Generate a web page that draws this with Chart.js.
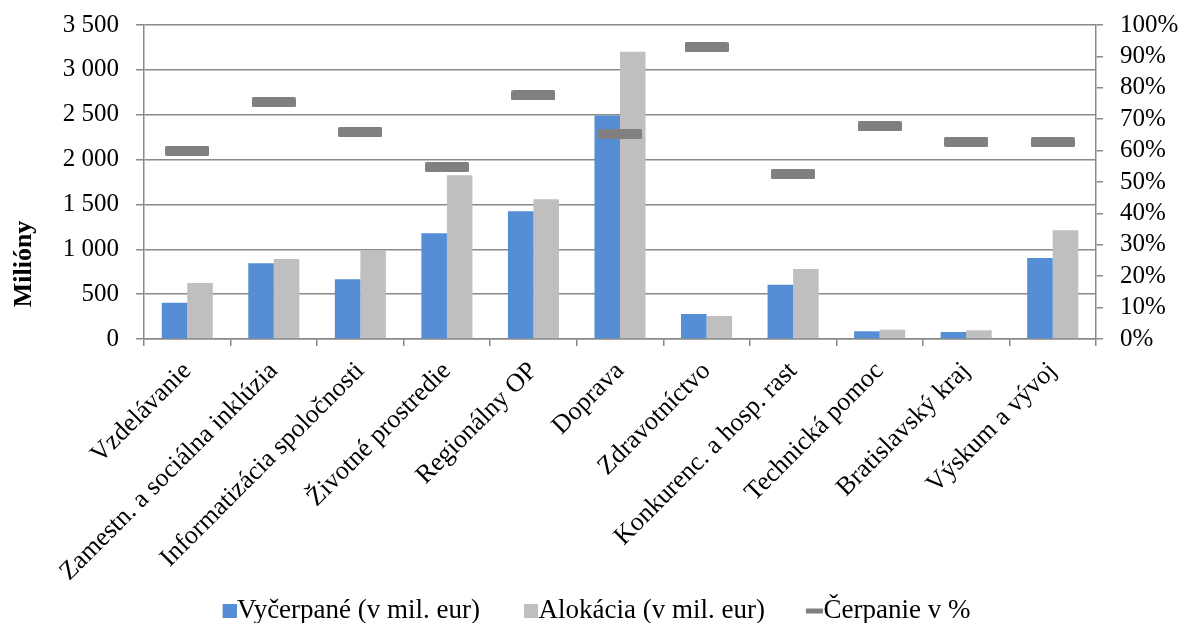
<!DOCTYPE html>
<html>
<head>
<meta charset="utf-8">
<script src="https://cdn.jsdelivr.net/npm/chart.js@4.4.1/dist/chart.umd.min.js"></script>
<style>
  html, body { margin: 0; padding: 0; background: #ffffff; }
  #wrap { width: 1180px; height: 623px; }
</style>
</head>
<body>
<div id="wrap"><canvas id="c" width="1180" height="623"></canvas></div>
<script>
const categories = [
  'Vzdelávanie',
  'Zamestn. a sociálna inklúzia',
  'Informatizácia spoločnosti',
  'Životné prostredie',
  'Regionálny OP',
  'Doprava',
  'Zdravotníctvo',
  'Konkurenc. a hosp. rast',
  'Technická pomoc',
  'Bratislavský kraj',
  'Výskum a vývoj'
];
const vycerpane = [405, 844, 665, 1178, 1423, 2490, 279, 606, 86, 78, 903];
const alokacia = [624, 892, 992, 1825, 1557, 3203, 256, 780, 104, 97, 1212];
const cerpaniePct = [60.0, 75.4, 66.0, 54.8, 77.6, 65.4, 93.0, 52.6, 67.8, 62.8, 62.6];

const leftTickLabels = ['0', '500', '1 000', '1 500', '2 000', '2 500', '3 000', '3 500'];
const rightTickLabels = ['0%', '10%', '20%', '30%', '40%', '50%', '60%', '70%', '80%', '90%', '100%'];

const seriesNames = ['Vyčerpané (v mil. eur)', 'Alokácia (v mil. eur)', 'Čerpanie v %'];

const BLUE = '#558ed5';
const GRAY = '#bfbfbf';
const DASH = '#808080';
const FONT = "'Liberation Serif', 'Times New Roman', serif";

function makeCanvas(w, h, draw) {
  const cv = document.createElement('canvas');
  cv.width = w; cv.height = h;
  draw(cv.getContext('2d'));
  return cv;
}
function roundRect(ctx, x, y, w, h, r) {
  ctx.beginPath();
  ctx.moveTo(x + r, y);
  ctx.lineTo(x + w - r, y);
  ctx.quadraticCurveTo(x + w, y, x + w, y + r);
  ctx.lineTo(x + w, y + h - r);
  ctx.quadraticCurveTo(x + w, y + h, x + w - r, y + h);
  ctx.lineTo(x + r, y + h);
  ctx.quadraticCurveTo(x, y + h, x, y + h - r);
  ctx.lineTo(x, y + r);
  ctx.quadraticCurveTo(x, y, x + r, y);
  ctx.closePath();
}
const dashPoint = makeCanvas(44, 10, ctx => {
  ctx.fillStyle = DASH;
  roundRect(ctx, 0, 0, 44, 10, 1.5);
  ctx.fill();
});
// legend markers (offset so they sit right next to text)
const legBlue = makeCanvas(40, 14, ctx => { ctx.fillStyle = BLUE; ctx.fillRect(26, 0, 14, 14); });
const legGray = makeCanvas(40, 14, ctx => { ctx.fillStyle = GRAY; ctx.fillRect(26, 0, 14, 14); });
const legDash = makeCanvas(40, 14, ctx => { ctx.fillStyle = DASH; ctx.fillRect(23, 5, 17, 5); });

const yTitlePlugin = {
  id: 'yTitle',
  afterLayout(chart) {
    // let rotated category labels extend below the axis box without clipping
    chart.scales.x.bottom = chart.height;
  },
  afterDraw(chart) {
    const ctx = chart.ctx;
    ctx.save();
    ctx.translate(31, 264);
    ctx.rotate(-Math.PI / 2);
    ctx.font = 'bold 26px ' + FONT;
    ctx.fillStyle = '#000';
    ctx.textAlign = 'center';
    ctx.textBaseline = 'alphabetic';
    ctx.fillText('Milióny', 0, 0);
    ctx.restore();
  }
};

function noVPad(scale) {
  scale.paddingTop = 0;
  scale.paddingBottom = 0;
}

new Chart(document.getElementById('c'), {
  data: {
    labels: categories,
    datasets: [
      {
        type: 'line',
        label: seriesNames[2],
        data: cerpaniePct,
        yAxisID: 'y1',
        showLine: false,
        pointStyle: dashPoint,
        pointRadius: 10,
        pointHoverRadius: 10,
        order: 0
      },
      {
        type: 'bar',
        label: seriesNames[0],
        data: vycerpane,
        yAxisID: 'y',
        backgroundColor: BLUE,
        barPercentage: 1.0,
        categoryPercentage: 0.59,
        order: 1
      },
      {
        type: 'bar',
        label: seriesNames[1],
        data: alokacia,
        yAxisID: 'y',
        backgroundColor: GRAY,
        barPercentage: 1.0,
        categoryPercentage: 0.59,
        order: 2
      }
    ]
  },
  options: {
    responsive: false,
    animation: false,
    devicePixelRatio: 1,
    layout: { padding: { top: 25, left: 0, right: 0, bottom: -11 } },
    plugins: {
      tooltip: { enabled: false },
      legend: {
        position: 'bottom',
        onClick: null,
        labels: {
          font: { family: FONT, size: 27 },
          color: '#000',
          usePointStyle: true,
          boxWidth: 14,
          boxHeight: 14,
          padding: 31,
          generateLabels() {
            return [
              { text: seriesNames[0], pointStyle: legBlue, fillStyle: BLUE, strokeStyle: BLUE, lineWidth: 0, datasetIndex: 1 },
              { text: seriesNames[1], pointStyle: legGray, fillStyle: GRAY, strokeStyle: GRAY, lineWidth: 0, datasetIndex: 2 },
              { text: seriesNames[2], pointStyle: legDash, fillStyle: DASH, strokeStyle: DASH, lineWidth: 0, datasetIndex: 0 }
            ];
          }
        }
      }
    },
    scales: {
      x: {
        offset: true,
        grid: {
          offset: true,
          drawOnChartArea: false,
          drawTicks: true,
          tickLength: 7,
          color: '#898989',
          lineWidth: 1.5
        },
        border: { display: true, color: '#898989', width: 1.5 },
        ticks: {
          font: { family: FONT, size: 26 },
          color: '#000',
          maxRotation: 45,
          minRotation: 45,
          autoSkip: false,
          padding: 10
        },
        afterFit(scale) { scale.height = 227; scale.paddingLeft = 0; scale.paddingRight = 0; }
      },
      y: {
        position: 'left',
        min: 0,
        max: 3500,
        ticks: {
          stepSize: 500,
          autoSkip: false,
          font: { family: FONT, size: 25 },
          color: '#000',
          padding: 17,
          callback(v) { return leftTickLabels[Math.round(v / 500)]; }
        },
        grid: {
          color: '#898989',
          lineWidth: 1.5,
          tickLength: 8,
          drawTicks: true
        },
        border: { display: true, color: '#898989', width: 1.5 },
        afterFit(scale) { scale.width = 144; noVPad(scale); }
      },
      y1: {
        position: 'right',
        min: 0,
        max: 100,
        ticks: {
          stepSize: 10,
          autoSkip: false,
          font: { family: FONT, size: 25 },
          color: '#000',
          padding: 17,
          callback(v) { return rightTickLabels[Math.round(v / 10)]; }
        },
        grid: {
          drawOnChartArea: false,
          drawTicks: true,
          tickLength: 7,
          color: '#898989',
          lineWidth: 1.5
        },
        border: { display: true, color: '#898989', width: 1.5 },
        afterFit(scale) { scale.width = 84; noVPad(scale); }
      }
    }
  },
  plugins: [yTitlePlugin]
});
</script>
</body>
</html>
